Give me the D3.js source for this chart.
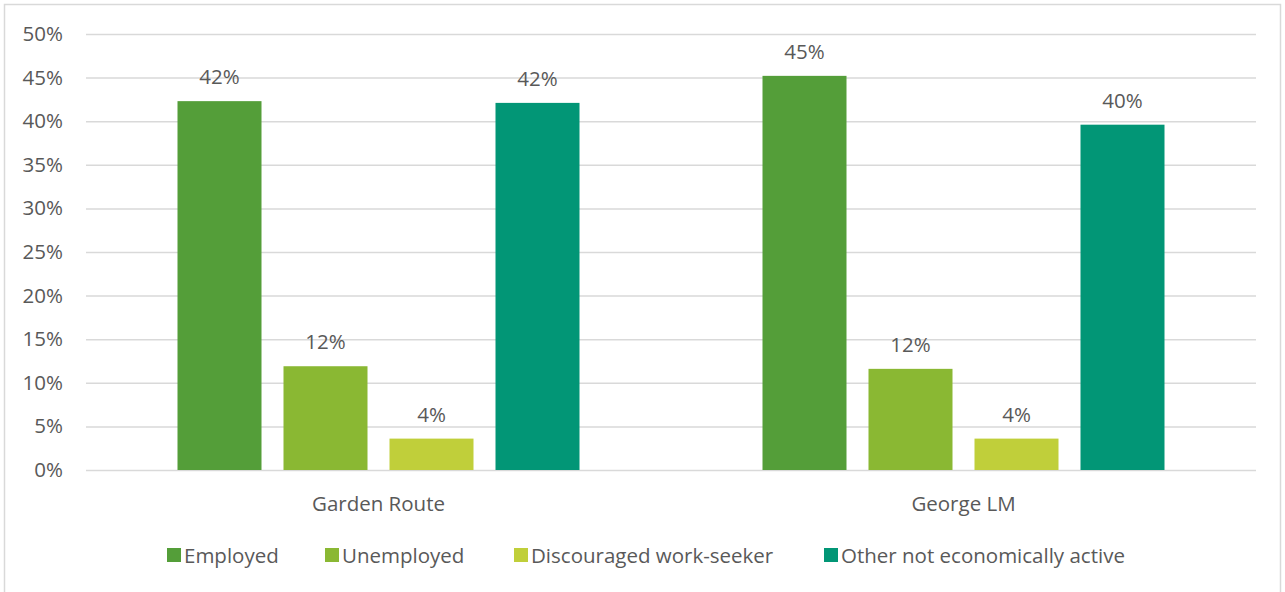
<!DOCTYPE html>
<html>
<head>
<meta charset="utf-8">
<script src="https://cdn.jsdelivr.net/npm/d3@7"></script>
<style>
  body { margin: 0; background: #fff; }
  text { font-family: "Open Sans", sans-serif; fill: #595959; }
</style>
</head>
<body>
<script>
// chart data
var categories = ["Garden Route", "George LM"];
var seriesNames = ["Employed", "Unemployed", "Discouraged work-seeker", "Other not economically active"];
var seriesColors = ["#549e39", "#8ab833", "#c0cf3a", "#029676"];
var gardenRoute = [42.3, 11.9, 3.6, 42.1];
var georgeLM = [45.2, 11.6, 3.6, 39.6];
var yTicks = [0, 5, 10, 15, 20, 25, 30, 35, 40, 45, 50];

var values = [gardenRoute, georgeLM];

var W = 1285, H = 592;
var plotL = 86, plotR = 1256, plotT = 34, plotB = 470;
var fontSize = "20.5px";

var svg = d3.select("body").append("svg")
    .attr("width", W)
    .attr("height", H);

// outer frame
svg.append("rect")
    .attr("x", 4.5).attr("y", 4.5)
    .attr("width", 1276).attr("height", 600)
    .attr("fill", "none")
    .attr("stroke", "#d9d9d9")
    .attr("stroke-width", 1.5);

var y = d3.scaleLinear().domain([0, 50]).range([plotB, plotT]);
var x0 = d3.scaleBand().domain(categories).range([plotL, plotR]);
var groupW = 402;
var x1 = d3.scaleBand().domain(seriesNames)
    .range([(x0.bandwidth() - groupW) / 2, (x0.bandwidth() + groupW) / 2])
    .paddingInner(22 / 106);

// gridlines + y labels
var yAxis = d3.axisLeft(y).tickValues(yTicks).tickFormat(function(d){ return d + "%"; })
    .tickSize(-(plotR - plotL)).tickPadding(23);
var ga = svg.append("g").attr("transform", "translate(" + plotL + ",0)").call(yAxis);
ga.select(".domain").remove();
ga.selectAll("line").attr("stroke", "#d9d9d9").attr("stroke-width", 1.5);
ga.selectAll("text").style("font-size", fontSize).attr("fill", "#595959")
    .style("font-family", "'Open Sans', sans-serif");

// bars
var groups = svg.selectAll("g.cat").data(categories).enter().append("g")
    .attr("class", "cat")
    .attr("transform", function(d){ return "translate(" + x0(d) + ",0)"; });

groups.each(function(cat, ci){
    var g = d3.select(this);
    var rows = seriesNames.map(function(s, si){ return {s: s, v: values[ci][si], c: seriesColors[si]}; });
    g.selectAll("rect").data(rows).enter().append("rect")
        .attr("x", function(d){ return x1(d.s); })
        .attr("y", function(d){ return y(d.v); })
        .attr("width", x1.bandwidth())
        .attr("height", function(d){ return plotB - y(d.v); })
        .attr("fill", function(d){ return d.c; });
    g.selectAll("text.val").data(rows).enter().append("text")
        .attr("class", "val")
        .attr("x", function(d){ return x1(d.s) + x1.bandwidth() / 2; })
        .attr("y", function(d){ return y(d.v) - 17; })
        .attr("text-anchor", "middle")
        .style("font-size", fontSize)
        .text(function(d){ return Math.round(d.v) + "%"; });
    g.append("text")
        .attr("x", x0.bandwidth() / 2)
        .attr("y", 510.5)
        .attr("text-anchor", "middle")
        .style("font-size", fontSize)
        .text(cat);
});

// legend
var legendX = [167, 325, 514, 824];
var lg = svg.selectAll("g.leg").data(seriesNames).enter().append("g")
    .attr("class", "leg")
    .attr("transform", function(d, i){ return "translate(" + legendX[i] + ",548)"; });
lg.append("rect").attr("width", 14).attr("height", 14)
    .attr("fill", function(d, i){ return seriesColors[i]; });
lg.append("text").attr("x", 17).attr("y", 14.5)
    .style("font-size", fontSize)
    .text(function(d){ return d; });
</script>
</body>
</html>
